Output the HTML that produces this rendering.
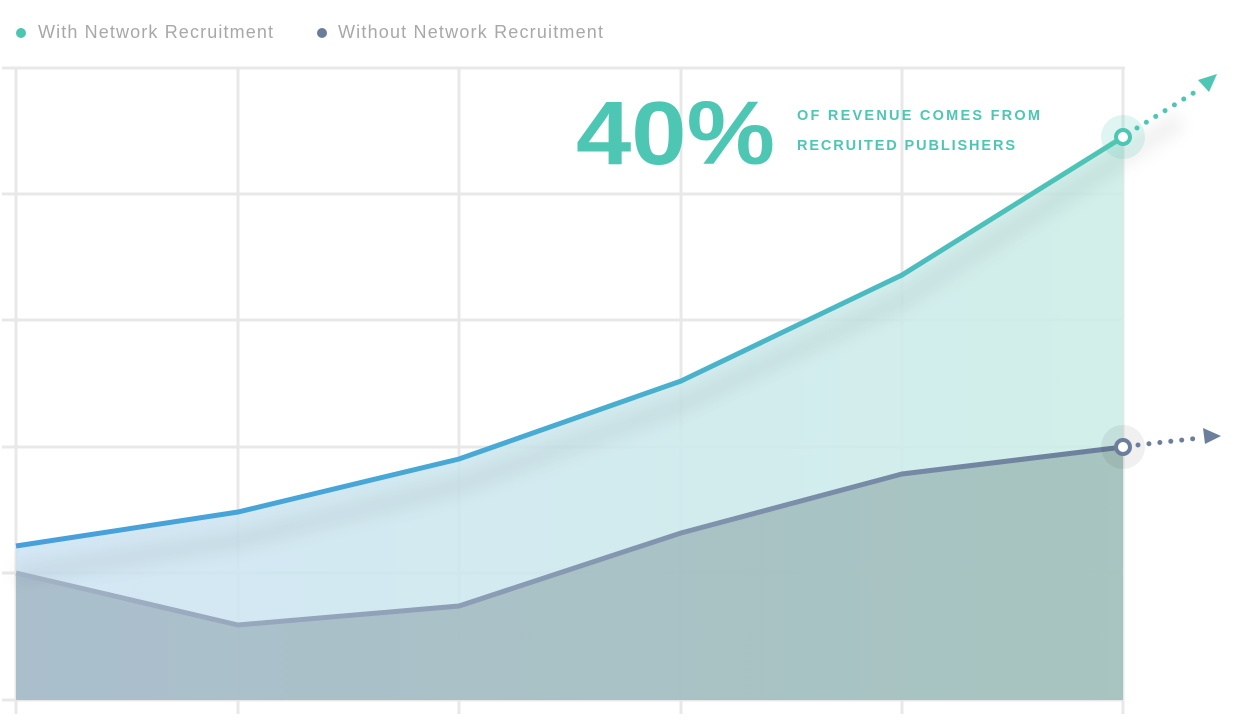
<!DOCTYPE html>
<html><head><style>
body{margin:0;background:#fff;width:1236px;height:719px;overflow:hidden;font-family:"Liberation Sans",sans-serif}
</style></head><body>
<svg width="1236" height="719" viewBox="0 0 1236 719" xmlns="http://www.w3.org/2000/svg">
<defs>
<linearGradient id="tl" x1="0" x2="1" y1="0" y2="0"><stop offset="0" stop-color="#479fdc"/><stop offset="0.45" stop-color="#47aad4"/><stop offset="1" stop-color="#4dc6b3"/></linearGradient>
<linearGradient id="tf" x1="0" x2="1" y1="0" y2="0"><stop offset="0" stop-color="#cde3f3"/><stop offset="1" stop-color="#ccede7"/></linearGradient>
<linearGradient id="bl" x1="0" x2="1" y1="0" y2="0"><stop offset="0" stop-color="#a3b3c6"/><stop offset="1" stop-color="#6b7f9c"/></linearGradient>
<linearGradient id="bf" x1="0" x2="1" y1="0" y2="0"><stop offset="0" stop-color="#a6bac8"/><stop offset="1" stop-color="#a3c0bb"/></linearGradient>
<filter id="bl1"><feGaussianBlur stdDeviation="8"/></filter>
</defs>
<text x="38" y="38" font-size="18" fill="#a8a8a8" textLength="235">With Network Recruitment</text>
<circle cx="21" cy="33" r="5" fill="#4cc6b2"/>
<text x="338" y="38" font-size="18" fill="#a8a8a8" textLength="265">Without Network Recruitment</text>
<circle cx="322" cy="33" r="5" fill="#687d9a"/>
<g stroke="#e8e8e8" stroke-width="3" fill="none">
<line x1="2" y1="68" x2="1125" y2="68"/><line x1="2" y1="194" x2="1123" y2="194"/><line x1="2" y1="320" x2="1123" y2="320"/><line x1="2" y1="447" x2="1123" y2="447"/><line x1="2" y1="573" x2="1123" y2="573"/><line x1="2" y1="700" x2="1123" y2="700"/>
<line x1="16" y1="68" x2="16" y2="714"/><line x1="238" y1="68" x2="238" y2="714"/><line x1="459" y1="68" x2="459" y2="714"/><line x1="681" y1="68" x2="681" y2="714"/><line x1="902" y1="68" x2="902" y2="714"/><line x1="1123" y1="68" x2="1123" y2="714"/>
</g>
<path d="M16 546 L238 512 L459 459 L681 381 L902 275 L1123 137 L1123 700 L16 700Z" fill="url(#tf)" opacity="0.88"/>
<path d="M16 573 L238 625 L459 606 L681 533 L902 474 L1123 447 L1123 700 L16 700Z" fill="url(#bf)" opacity="0.9"/>
<path d="M16 575 L238 540 L459 485 L681 405 L902 300 L1180 120" stroke="#000" stroke-opacity="0.06" stroke-width="18" fill="none" filter="url(#bl1)"/>
<path d="M16 546 L238 512 L459 459 L681 381 L902 275 L1123 137" stroke="url(#tl)" stroke-width="5" fill="none"/>
<path d="M16 573 L238 625 L459 606 L681 533 L902 474 L1123 447" stroke="url(#bl)" stroke-width="5" fill="none"/>
<circle cx="1123" cy="137" r="22" fill="#4dc6b3" opacity="0.18"/>
<circle cx="1123" cy="447" r="22" fill="#000" opacity="0.06"/>
<path d="M1137 128 L1200 89" stroke="#4dc6b3" stroke-width="5" stroke-linecap="round" stroke-dasharray="0 11" fill="none"/>
<polygon points="1217,74 1198,80 1209,92" fill="#4dc6b3"/>
<path d="M1138 445 L1200 438" stroke="#6b7f9c" stroke-width="5" stroke-linecap="round" stroke-dasharray="0 11" fill="none"/>
<polygon points="1221,436 1203,428 1205,444" fill="#6b7f9c"/>
<circle cx="1123" cy="137" r="7" fill="#fff" stroke="#4dc6b3" stroke-width="4"/>
<circle cx="1123" cy="447" r="7" fill="#fff" stroke="#6b7f9c" stroke-width="4"/>
<text x="576" y="164" font-size="90" font-weight="bold" fill="#4dc6b3" textLength="199" lengthAdjust="spacingAndGlyphs">40%</text>
<text x="797" y="120" font-size="14.5" font-weight="bold" fill="#4dc6b3" textLength="243">OF REVENUE COMES FROM</text>
<text x="797" y="150" font-size="14.5" font-weight="bold" fill="#4dc6b3" textLength="218">RECRUITED PUBLISHERS</text>
</svg>
</body></html>
